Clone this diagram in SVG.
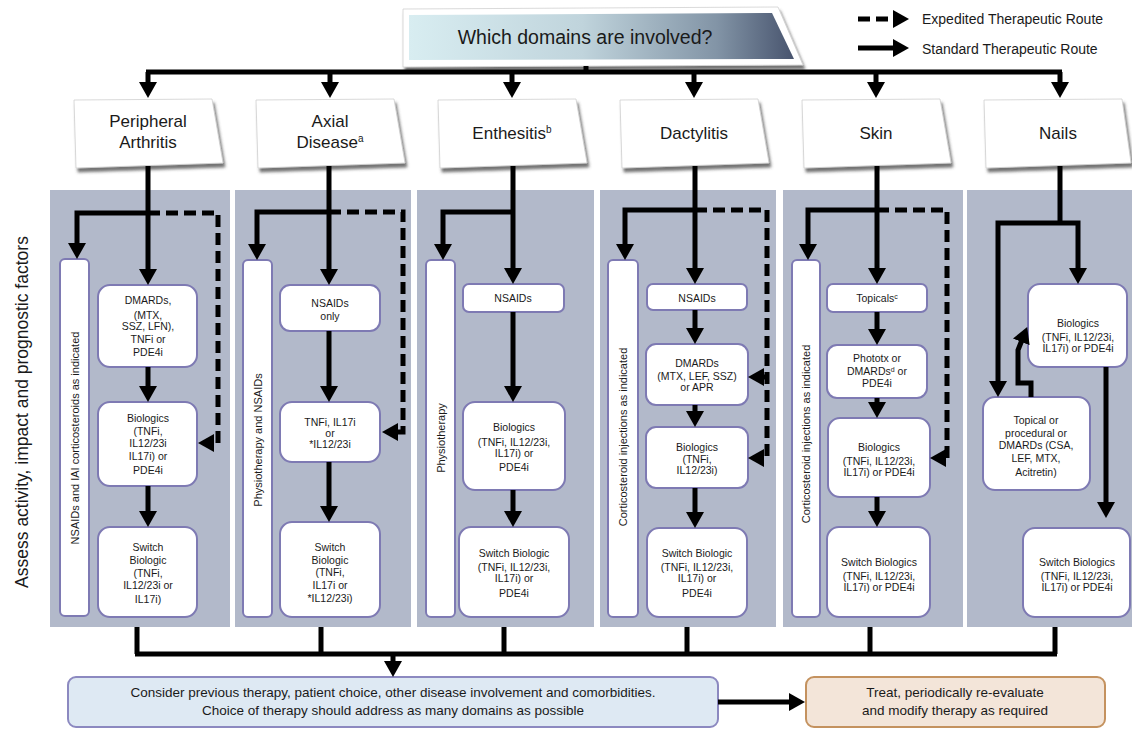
<svg xmlns="http://www.w3.org/2000/svg" width="1132" height="729" viewBox="0 0 1132 729">
<defs>
<linearGradient id="tg" x1="0" y1="0" x2="1" y2="0">
<stop offset="0" stop-color="#d8edf1"/><stop offset="0.45" stop-color="#c0d4dc"/><stop offset="0.8" stop-color="#8294a6"/><stop offset="1" stop-color="#48546e"/>
</linearGradient>
<filter id="sh" x="-10%" y="-10%" width="130%" height="140%"><feDropShadow dx="2" dy="4" stdDeviation="1.8" flood-color="#444" flood-opacity="0.75"/></filter>
<marker id="ah" markerUnits="userSpaceOnUse" viewBox="0 0 16 18" markerWidth="16" markerHeight="18" refX="2" refY="9" orient="auto"><path d="M0,0 L16,9 L0,18 z" fill="#000"/></marker>
<style>
.t{font-family:"Liberation Sans",Arial,sans-serif;fill:#1a1a1a}
.dom{font-size:17px;text-anchor:middle}
.bx{fill:#fff;stroke:#7e7ab3;stroke-width:2}
.bt{font-size:10.5px;text-anchor:middle}
.vt{font-size:11px;text-anchor:middle}
.col{fill:#b2b9ca}
.c{fill:none;stroke:#000;stroke-width:5;stroke-linejoin:miter}
.a{marker-end:url(#ah)}
.d{stroke-dasharray:12 6}
.paper{fill:#fff;stroke:#cfcfcf;stroke-width:0.8;filter:url(#sh)}
</style>
</defs>

<!-- left axis label -->
<text class="t" x="28" y="412" font-size="17.5" text-anchor="middle" transform="rotate(-90 28 412)">Assess activity, impact and prognostic factors</text>

<!-- columns -->
<g id="columns">
<rect class="col" x="50" y="190" width="180" height="437"/>
<rect class="col" x="235" y="190" width="176" height="437"/>
<rect class="col" x="417" y="190" width="177" height="437"/>
<rect class="col" x="600" y="190" width="176" height="437"/>
<rect class="col" x="783" y="190" width="180" height="437"/>
<rect class="col" x="967" y="190" width="165" height="437"/>
</g>

<!-- title -->
<g id="title">
<polygon points="403,9 778,7 803,65 403,67" fill="#fff" stroke="#d0d0d0" stroke-width="0.8" filter="url(#sh)"/>
<polygon points="409,15 772,13 794,59 409,60" fill="url(#tg)"/>
<text class="t" x="585" y="44" font-size="19.5" text-anchor="middle">Which domains are involved?</text>
</g>

<!-- legend -->
<g id="legend">
<path class="c d a" d="M858 19 H895"/>
<text class="t" x="922" y="24" font-size="14">Expedited Therapeutic Route</text>
<path class="c a" d="M858 48 H895"/>
<text class="t" x="922" y="54" font-size="14">Standard Therapeutic Route</text>
</g>

<!-- domain boxes -->
<g id="d-peripheral"><polygon class="paper" points="74,100 212,99 223,163 76,168"/><text class="t dom" x="148" y="127">Peripheral</text><text class="t dom" x="148" y="148">Arthritis</text></g>
<g id="d-axial"><polygon class="paper" points="256,100 394,99 405,163 258,168"/><text class="t dom" x="330" y="127">Axial</text><text class="t dom" x="330" y="148">Disease<tspan font-size="10" dy="-6">a</tspan></text></g>
<g id="d-enthesitis"><polygon class="paper" points="438,100 576,99 587,163 440,168"/><text class="t dom" x="512" y="139">Enthesitis<tspan font-size="10" dy="-6">b</tspan></text></g>
<g id="d-dactylitis"><polygon class="paper" points="620,100 758,99 769,163 622,168"/><text class="t dom" x="694" y="139">Dactylitis</text></g>
<g id="d-skin"><polygon class="paper" points="802,100 940,99 951,163 804,168"/><text class="t dom" x="876" y="139">Skin</text></g>
<g id="d-nails"><polygon class="paper" points="984,100 1122,99 1131,163 986,168"/><text class="t dom" x="1058" y="139">Nails</text></g>

<!-- column 1 -->
<g id="c1-tall"><rect class="bx" x="60" y="259" width="29" height="357" rx="5"/><text class="t vt" x="78.5" y="438" transform="rotate(-90 78.5 438)">NSAIDs and IAI corticosteroids as indicated</text></g>
<g id="c1-dmards"><rect class="bx" x="98" y="285" width="99" height="82" rx="12"/>
<text class="t bt" x="148" y="304">DMARDs,</text><text class="t bt" x="148" y="319">(MTX,</text><text class="t bt" x="148" y="330">SSZ, LFN),</text><text class="t bt" x="148" y="343">TNFi or</text><text class="t bt" x="148" y="356">PDE4i</text></g>
<g id="c1-bio"><rect class="bx" x="98" y="402" width="99" height="84" rx="12"/>
<text class="t bt" x="148" y="422">Biologics</text><text class="t bt" x="148" y="435">(TNFi,</text><text class="t bt" x="148" y="447">IL12/23i</text><text class="t bt" x="148" y="460">IL17i) or</text><text class="t bt" x="148" y="474">PDE4i</text></g>
<g id="c1-switch"><rect class="bx" x="98" y="527" width="99" height="90" rx="12"/>
<text class="t bt" x="148" y="551">Switch</text><text class="t bt" x="148" y="564">Biologic</text><text class="t bt" x="148" y="577">(TNFi,</text><text class="t bt" x="148" y="589">IL12/23i or</text><text class="t bt" x="148" y="603">IL17i)</text></g>

<!-- column 2 -->
<g id="c2-tall"><rect class="bx" x="243" y="260" width="29" height="357" rx="5"/><text class="t vt" x="261.5" y="440" transform="rotate(-90 261.5 440)">Physiotherapy and NSAIDs</text></g>
<g id="c2-nsaids"><rect class="bx" x="280" y="285" width="100" height="46" rx="10"/>
<text class="t bt" x="330" y="307">NSAIDs</text><text class="t bt" x="330" y="320">only</text></g>
<g id="c2-tnfi"><rect class="bx" x="280" y="402" width="100" height="60" rx="12"/>
<text class="t bt" x="330" y="426">TNFi, IL17i</text><text class="t bt" x="330" y="437">or</text><text class="t bt" x="330" y="448">*IL12/23i</text></g>
<g id="c2-switch"><rect class="bx" x="280" y="522" width="100" height="95" rx="12"/>
<text class="t bt" x="330" y="551">Switch</text><text class="t bt" x="330" y="564">Biologic</text><text class="t bt" x="330" y="576">(TNFi,</text><text class="t bt" x="330" y="589">IL17i or</text><text class="t bt" x="330" y="602">*IL12/23i)</text></g>

<!-- column 3 -->
<g id="c3-tall"><rect class="bx" x="426" y="260" width="29" height="357" rx="5"/><text class="t vt" x="444.5" y="438" transform="rotate(-90 444.5 438)">Physiotherapy</text></g>
<g id="c3-nsaids"><rect class="bx" x="463" y="284" width="101" height="28" rx="6"/><text class="t bt" x="513" y="302">NSAIDs</text></g>
<g id="c3-bio"><rect class="bx" x="463" y="402" width="102" height="88" rx="12"/>
<text class="t bt" x="514" y="431">Biologics</text><text class="t bt" x="514" y="446">(TNFi, IL12/23i,</text><text class="t bt" x="514" y="457">IL17i) or</text><text class="t bt" x="514" y="471">PDE4i</text></g>
<g id="c3-switch"><rect class="bx" x="459" y="527" width="110" height="90" rx="12"/>
<text class="t bt" x="514" y="557">Switch Biologic</text><text class="t bt" x="514" y="571">(TNFi, IL12/23i,</text><text class="t bt" x="514" y="582">IL17i) or</text><text class="t bt" x="514" y="597">PDE4i</text></g>

<!-- column 4 -->
<g id="c4-tall"><rect class="bx" x="608" y="260" width="30" height="357" rx="5"/><text class="t vt" x="627" y="437" transform="rotate(-90 627 437)">Corticosteroid injections as indicated</text></g>
<g id="c4-nsaids"><rect class="bx" x="647" y="284" width="100" height="26" rx="6"/><text class="t bt" x="697" y="302">NSAIDs</text></g>
<g id="c4-dmards"><rect class="bx" x="646" y="344" width="102" height="61" rx="10"/>
<text class="t bt" x="697" y="367">DMARDs</text><text class="t bt" x="697" y="380">(MTX, LEF, SSZ)</text><text class="t bt" x="697" y="391">or APR</text></g>
<g id="c4-bio"><rect class="bx" x="646" y="427" width="102" height="61" rx="10"/>
<text class="t bt" x="697" y="451">Biologics</text><text class="t bt" x="697" y="463">(TNFi,</text><text class="t bt" x="697" y="474">IL12/23i)</text></g>
<g id="c4-switch"><rect class="bx" x="647" y="528" width="100" height="89" rx="12"/>
<text class="t bt" x="697" y="557">Switch Biologic</text><text class="t bt" x="697" y="571">(TNFi, IL12/23i,</text><text class="t bt" x="697" y="582">IL17i) or</text><text class="t bt" x="697" y="597">PDE4i</text></g>

<!-- column 5 -->
<g id="c5-tall"><rect class="bx" x="792" y="260" width="28" height="357" rx="5"/><text class="t vt" x="810" y="434" transform="rotate(-90 810 434)">Corticosteroid injections as indicated</text></g>
<g id="c5-topicals"><rect class="bx" x="827" y="284" width="100" height="28" rx="6"/><text class="t bt" x="877" y="302">Topicals<tspan font-size="7" dy="-3">c</tspan></text></g>
<g id="c5-photo"><rect class="bx" x="827" y="345" width="100" height="53" rx="10"/>
<text class="t bt" x="877" y="362">Phototx or</text><text class="t bt" x="877" y="375">DMARDs<tspan font-size="7" dy="-3">d</tspan><tspan dy="3"> or</tspan></text><text class="t bt" x="877" y="387">PDE4i</text></g>
<g id="c5-bio"><rect class="bx" x="828" y="418" width="102" height="79" rx="12"/>
<text class="t bt" x="879" y="451">Biologics</text><text class="t bt" x="879" y="465">(TNFi, IL12/23i,</text><text class="t bt" x="879" y="476">IL17i) or PDE4i</text></g>
<g id="c5-switch"><rect class="bx" x="827" y="527" width="103" height="90" rx="12"/>
<text class="t bt" x="879" y="566">Switch Biologics</text><text class="t bt" x="879" y="580">(TNFi, IL12/23i,</text><text class="t bt" x="879" y="591">IL17i) or PDE4i</text></g>

<!-- column 6 -->
<g id="c6-bio"><rect class="bx" x="1028" y="284" width="99" height="83" rx="12"/>
<text class="t bt" x="1078" y="327">Biologics</text><text class="t bt" x="1078" y="341">(TNFi, IL12/23i,</text><text class="t bt" x="1078" y="352">IL17i) or PDE4i</text></g>
<g id="c6-topical"><rect class="bx" x="983" y="397" width="107" height="93" rx="12"/>
<text class="t bt" x="1036" y="424">Topical or</text><text class="t bt" x="1036" y="437">procedural or</text><text class="t bt" x="1036" y="449">DMARDs (CSA,</text><text class="t bt" x="1036" y="462">LEF, MTX,</text><text class="t bt" x="1036" y="476">Acitretin)</text></g>
<g id="c6-switch"><rect class="bx" x="1023" y="528" width="107" height="89" rx="12"/>
<text class="t bt" x="1077" y="566">Switch Biologics</text><text class="t bt" x="1077" y="580">(TNFi, IL12/23i,</text><text class="t bt" x="1077" y="591">IL17i) or PDE4i</text></g>

<!-- bottom boxes -->
<g id="consider"><rect x="68" y="677" width="650" height="50" rx="8" fill="#dee9f3" stroke="#8c89c0" stroke-width="2"/>
<text class="t" x="393" y="697" font-size="13.5" text-anchor="middle">Consider previous therapy, patient choice, other disease involvement and comorbidities.</text>
<text class="t" x="393" y="715" font-size="13.5" text-anchor="middle">Choice of therapy should address as many domains as possible</text></g>
<g id="treat"><rect x="806" y="677" width="299" height="50" rx="8" fill="#f3e5d9" stroke="#c4925f" stroke-width="2"/>
<text class="t" x="955" y="697" font-size="13.5" text-anchor="middle">Treat, periodically re-evaluate</text>
<text class="t" x="955" y="715" font-size="13.5" text-anchor="middle">and modify therapy as required</text></g>

<!-- connectors -->
<g id="connectors">
<path class="c" d="M586 66 V72"/>
<path class="c" d="M146 72 H1062"/>
<path class="c a" d="M148 72 V84"/>
<path class="c a" d="M330 72 V84"/>
<path class="c a" d="M512 72 V84"/>
<path class="c a" d="M694 72 V84"/>
<path class="c a" d="M876 72 V84"/>
<path class="c a" d="M1060 72 V84"/>

<path class="c a" d="M148 166 V271"/>
<path class="c a" d="M148 213 H77 V245"/>
<path class="c d a" d="M148 213 H218 V443 H212"/>
<path class="c a" d="M148 367 V388"/>
<path class="c a" d="M148 486 V513"/>

<path class="c a" d="M329 166 V271"/>
<path class="c a" d="M329 212 H257 V246"/>
<path class="c d a" d="M329 212 H403 V432 H396"/>
<path class="c a" d="M329 331 V388"/>
<path class="c a" d="M329 462 V508"/>

<path class="c a" d="M513 166 V270"/>
<path class="c a" d="M513 212 H443 V246"/>
<path class="c a" d="M513 312 V388"/>
<path class="c a" d="M513 490 V513"/>

<path class="c a" d="M695 166 V270"/>
<path class="c a" d="M695 210 H625 V246"/>
<path class="c d a" d="M695 210 H767 V458 H762"/>
<path class="c a" d="M767 377 H762"/>
<path class="c a" d="M695 310 V330"/>
<path class="c a" d="M695 405 V413"/>
<path class="c a" d="M695 488 V514"/>

<path class="c a" d="M877 166 V270"/>
<path class="c a" d="M877 210 H808 V246"/>
<path class="c d a" d="M877 210 H947 V458 H944"/>
<path class="c a" d="M877 312 V331"/>
<path class="c a" d="M877 398 V404"/>
<path class="c a" d="M877 497 V513"/>

<path class="c" d="M1060 166 V223"/>
<path class="c a" d="M1060 223 H998 V383"/>
<path class="c a" d="M1060 223 H1078 V270"/>
<path class="c a" d="M1106 367 V504"/>
<path class="c a" d="M1031 397 V383 H1018 V350 L1022 340"/>

<path class="c" d="M137 627 V654 M321 627 V654 M504 627 V654 M687 627 V654 M870 627 V654 M1055 627 V654"/>
<path class="c" d="M135 654 H1057"/>
<path class="c a" d="M393 654 V663"/>
<path class="c a" stroke-width="7" d="M718 702 H791"/>
</g>
</svg>
